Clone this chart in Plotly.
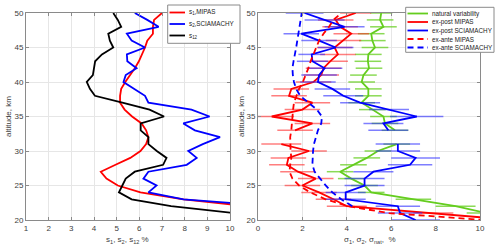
import plotly.graph_objects as go

# ---------------- data ----------------
altitude_km = list(range(20, 51))  # 20 .. 50 km

# left panel: s1 (MIPAS), s2 (SCIAMACHY), s12  [%]
s1_mipas = [16.0, 14.0, 10.8, 7.95, 6.05, 5.05, 4.55, 4.3, 4.95, 5.6, 6.05, 6.3, 6.4, 6.3, 6.1,
            5.68, 5.35, 5.15, 5.15, 5.2, 5.38, 5.6, 5.8, 5.98, 6.12, 6.25, 6.35, 6.6, 6.6, 6.65, 7.0]
s2_sciamachy = [17.0, 15.0, 12.0, 7.95, 6.4, 6.76, 6.18, 6.4, 8.09, 8.53, 8.16, 8.8, 9.56, 8.45, 7.94,
                9.1, 8.3, 6.4, 6.25, 5.8, 5.3, 5.4, 5.88, 5.47, 5.45, 6.25, 5.66, 5.45, 6.85, 6.35, 5.8]
s12 = [13.0, 10.2, 7.4, 5.66, 5.1, 5.25, 5.4, 5.8, 7.05, 7.2, 6.77, 6.4, 6.4, 6.06, 6.06,
       7.09, 6.45, 5.25, 4.04, 3.82, 3.68, 3.95, 4.0, 4.05, 4.35, 4.85, 4.7, 4.63, 5.2, 5.05, 4.85]

# right panel [%]
natural_variability = [11.5, 10.3, 8.9, 7.0, 5.1, 4.8, 4.2, 3.7, 4.3, 4.9, 5.4, 6.25, None, 6.17, 5.72,
                       5.65, 5.15, 4.67, 4.97, 4.97, 4.67, 4.75, 5.0, 4.95, 4.97, 5.27, 5.15, 5.1, 5.65, 5.5, 5.55]
natural_err = [0.9, 0.9, 0.9, 0.8, 0.6, 0.6, 0.6, 0.6, 0.6, 0.6, 0.6, 0.6, None, 0.6, 0.6,
               0.6, 0.6, 0.6, 0.6, 0.6, 0.6, 0.6, 0.6, 0.6, 0.6, 0.6, 0.6, 0.6, 0.6, 0.6, 0.5]
expost_mipas = [11.5, 7.9, 4.0, 3.4, 2.75, 2.0, 2.6, 1.8, 1.3, 1.37, 2.3, 1.05, None, 1.67, 2.45,
                0.62, 2.0, 2.45, 1.4, 1.5, 2.5, 2.85, 2.95, 3.25, 3.6, 3.45, 3.85, 4.2, 3.7, 3.5, 4.4]
expost_mipas_err = [0.9, 0.9, 0.9, 0.8, 0.8, 0.8, 0.8, 0.8, 0.8, 0.8, 0.8, 0.9, None, 0.8, 0.8,
                    1.0, 0.8, 0.8, 0.8, 0.8, 0.8, 0.8, 0.8, 0.8, 0.8, 0.8, 0.8, 0.8, 0.8, 0.8, 0.7]
expost_sciamachy = [7.1, 6.4, 6.3, 3.95, 3.95, 4.8, 4.8, 5.2, 6.85, 7.1, 6.3, 6.3, None, 5.87, 5.65,
                    7.15, 5.9, 4.6, 3.84, 3.35, 2.7, 2.75, 3.0, 2.45, 2.42, 3.5, 2.75, 1.95, 3.9, 3.0, 2.1]
expost_sciamachy_err = [1.1, 1.0, 1.0, 0.9, 0.9, 0.9, 0.9, 0.9, 1.0, 1.1, 1.0, 1.0, None, 0.9, 0.9,
                        1.2, 0.9, 0.9, 0.9, 0.8, 0.8, 0.8, 0.8, 0.7, 0.6, 0.8, 0.8, 0.8, 0.9, 0.9, 0.85]
exante_mipas = [10.2, 5.9, 4.05, 3.05, 2.35, 1.85, 1.55, 1.42, 1.45, 1.5, 1.47, 1.45, 1.45, 1.5, 1.52,
                1.55, 1.58, 1.62, 1.72, 1.85, 2.02, 2.15, 2.27, 2.37, 2.5, 2.6, 2.75, 2.95, 3.2, 3.4, 3.75]
exante_sciamachy = [None, None, 4.25, 3.75, 3.35, 3.05, 2.8, 2.55, 2.45, 2.45, 2.48, 2.52, 2.6, 2.7, 2.85,
                    2.88, 2.65, 2.25, 1.9, 1.72, 1.62, 1.57, 1.55, 1.6, 1.67, 1.72, 1.77, 1.82, 1.9, 1.95, 1.97]

left_names = ["s<sub>1</sub>,MIPAS", "s<sub>2</sub>,SCIAMACHY", "s<sub>12</sub>"]
right_names = ["natural variability", "ex-post MIPAS", "ex-post SCIAMACHY", "ex-ante MIPAS", "ex-ante SCIAMACHY"]
left_xticks = [1, 2, 3, 4, 5, 6, 7, 8, 9, 10]
right_xticks = [0, 2, 4, 6, 8, 10]
y_ticks = [20, 25, 30, 35, 40, 45, 50]

# ---------------- styles ----------------
RED = "rgb(255,0,0)"
BLUE = "rgb(0,0,255)"
BLACK = "rgb(0,0,0)"
GREEN = "rgb(100,205,30)"
LW = 1.8
DASH = "6px,4px"
FONT = "Liberation Sans, Arial, sans-serif"
TXT = "#404040"

W, H = 500, 252
ML, MR, MT, MB = 26, 20, 13, 32
PW, PH = W - ML - MR, H - MT - MB


def fx(px):  # page pixel -> paper fraction
    return (px - ML) / PW


def fy(py):
    return (MT + PH - py) / PH


fig = go.Figure()

# left panel
for vals, col, name in zip([s1_mipas, s2_sciamachy, s12], [RED, BLUE, BLACK], left_names):
    fig.add_trace(go.Scatter(x=vals, y=altitude_km, mode="lines", name=name,
                             line=dict(color=col, width=LW), xaxis="x", yaxis="y", showlegend=False))

# right panel: error bars + lines
err_series = [
    (natural_variability, natural_err, GREEN, "rgba(100,205,30,0.75)"),
    (expost_mipas, expost_mipas_err, RED, "rgba(255,40,40,0.6)"),
    (expost_sciamachy, expost_sciamachy_err, BLUE, "rgba(40,40,255,0.6)"),
]
for (vals, err, col, ecol), name in zip(err_series, right_names[:3]):
    fig.add_trace(go.Scatter(x=vals, y=altitude_km, mode="lines", name=name,
                             line=dict(color=col, width=LW),
                             error_x=dict(type="data", array=err, visible=True, color=ecol,
                                          thickness=1.5, width=0),
                             xaxis="x2", yaxis="y2", showlegend=False))
for vals, col, name in zip([exante_mipas, exante_sciamachy], [RED, BLUE], right_names[3:]):
    fig.add_trace(go.Scatter(x=vals, y=altitude_km, mode="lines", name=name,
                             line=dict(color=col, width=LW, dash=DASH),
                             xaxis="x2", yaxis="y2", showlegend=False))

axis_common = dict(showline=True, linecolor="#8a8a8a", linewidth=1, mirror="ticks",
                   ticks="inside", ticklen=3, tickcolor="#8a8a8a", showgrid=True,
                   gridcolor="#e6e6e6", gridwidth=1, zeroline=False,
                   tickfont=dict(family=FONT, size=8, color=TXT))

fig.update_layout(
    width=W, height=H, margin=dict(l=ML, r=MR, t=MT, b=MB, autoexpand=False),
    paper_bgcolor="white", plot_bgcolor="white", showlegend=False,
    xaxis=dict(domain=[0, fx(230)], range=[1, 10], tickvals=left_xticks, anchor="y", **axis_common),
    yaxis=dict(domain=[0, 1], range=[20, 50], tickvals=y_ticks, anchor="x", **axis_common),
    xaxis2=dict(domain=[fx(258), 1], range=[0, 10], tickvals=right_xticks, anchor="y2", **axis_common),
    yaxis2=dict(domain=[0, 1], range=[20, 50], tickvals=y_ticks, anchor="x2", **axis_common),
)

annotations = []
shapes = []

# axis titles
title_font = dict(family=FONT, size=8, color=TXT)
for px in (8.5, 241.5):
    annotations.append(dict(text="altitude, km", x=fx(px), y=fy(116.5), xref="paper", yref="paper",
                            textangle=-90, showarrow=False, xanchor="center", yanchor="middle",
                            font=title_font))
annotations.append(dict(text="s<sub>1</sub>, s<sub>2</sub>, s<sub>12</sub> %", x=fx(127), y=fy(240),
                        xref="paper", yref="paper", showarrow=False, xanchor="center",
                        yanchor="middle", font=title_font))
annotations.append(dict(text="σ<sub>1</sub>, σ<sub>2</sub>, σ<sub>nat</sub>,  %", x=fx(370), y=fy(240),
                        xref="paper", yref="paper", showarrow=False, xanchor="center",
                        yanchor="middle", font=title_font))


def add_legend(box, names, colors, dashes, rows, x_line0, x_line1, x_text):
    x0, y0, x1, y1 = box
    shapes.append(dict(type="rect", xref="paper", yref="paper", x0=fx(x0), x1=fx(x1),
                       y0=fy(y1), y1=fy(y0), fillcolor="white",
                       line=dict(color="#8a8a8a", width=1), layer="above"))
    for name, col, dsh, ry in zip(names, colors, dashes, rows):
        shapes.append(dict(type="line", xref="paper", yref="paper", x0=fx(x_line0), x1=fx(x_line1),
                           y0=fy(ry), y1=fy(ry), line=dict(color=col, width=LW, dash=dsh),
                           layer="above"))
        annotations.append(dict(text=name, x=fx(x_text), y=fy(ry), xref="paper", yref="paper",
                                showarrow=False, xanchor="left", yanchor="middle",
                                font=dict(family=FONT, size=6.3, color="#222")))


add_legend((167.7, 5, 240, 43.3), left_names, [RED, BLUE, BLACK], ["solid"] * 3,
           [12.5, 24, 35.5], 169.5, 185, 186.5)
add_legend((405.7, 7.3, 494, 52.3), right_names, [GREEN, RED, BLUE, RED, BLUE],
           ["solid", "solid", "solid", DASH, DASH], [13.5, 22, 30.5, 39, 47.5], 407.5, 428, 429.5)

fig.update_layout(annotations=annotations, shapes=shapes)
fig.write_html("out.html", config={"displayModeBar": False, "staticPlot": True},
               post_script="document.body.style.margin='0';document.body.style.overflow='hidden';")
